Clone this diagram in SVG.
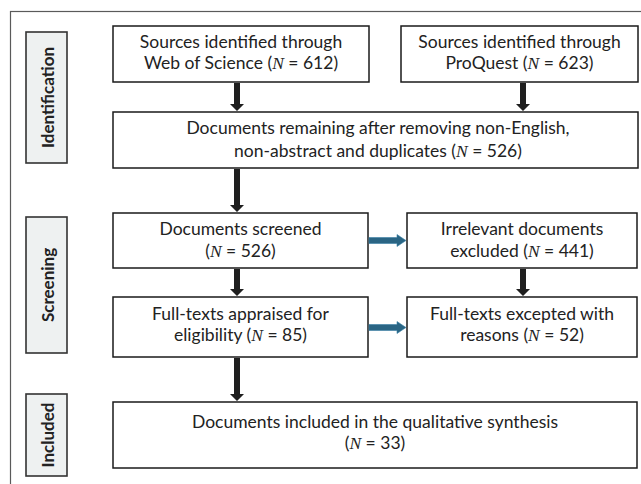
<svg xmlns="http://www.w3.org/2000/svg" width="641" height="484" viewBox="0 0 641 484">
<defs>
<style>
.frame{fill:none;stroke:#5a5a5a;stroke-width:1.2}
.lab rect{fill:#eef1f1;stroke:#333;stroke-width:1.6}
.lab text{font-family:Lato,"Open Sans",sans-serif;font-weight:bold;font-size:17px;fill:#222;text-anchor:middle;dominant-baseline:central}
.node rect{fill:#fff;stroke:#1a1a1a;stroke-width:1.5}
.node text{font-family:Lato,"Open Sans",sans-serif;font-size:17.5px;fill:#222;text-anchor:middle}
.n{font-family:"Liberation Serif",serif;font-style:italic}
.blk{fill:#1f1f1f}
.blu{fill:#2a6584;stroke:#3a82a6;stroke-width:0.6}
</style>
</defs>
<rect class="frame" x="10.5" y="11.5" width="640" height="480"/>
<g id="label-identification" class="lab"><rect x="26" y="32" width="41" height="131"/><text transform="translate(47,97.5) rotate(-90)">Identification</text></g>
<g id="label-screening" class="lab"><rect x="26" y="217" width="41" height="136"/><text transform="translate(47,285) rotate(-90)">Screening</text></g>
<g id="label-included" class="lab"><rect x="26" y="394" width="41" height="82"/><text transform="translate(47,435) rotate(-90)">Included</text></g>

<g id="wos" class="node"><rect x="113" y="26" width="256" height="56"/><text x="241" y="48">Sources identified through</text><text x="241" y="69">Web of Science (<tspan class="n">N</tspan> = 612)</text></g>
<g id="proquest" class="node"><rect x="401" y="26" width="237" height="56"/><text x="519.5" y="48">Sources identified through</text><text x="519.5" y="69">ProQuest (<tspan class="n">N</tspan> = 623)</text></g>
<g id="remaining" class="node"><rect x="113" y="112" width="525" height="56"/><text x="378" y="134">Documents remaining after removing non-English,</text><text x="378" y="157">non-abstract and duplicates (<tspan class="n">N</tspan> = 526)</text></g>
<g id="screened" class="node"><rect x="113" y="213" width="255" height="55"/><text x="240.5" y="235">Documents screened</text><text x="240.5" y="257">(<tspan class="n">N</tspan> = 526)</text></g>
<g id="irrelevant" class="node"><rect x="407" y="213" width="230" height="55"/><text x="522" y="235">Irrelevant documents</text><text x="522" y="257">excluded (<tspan class="n">N</tspan> = 441)</text></g>
<g id="appraised" class="node"><rect x="113" y="297" width="255" height="60"/><text x="240.5" y="320">Full-texts appraised for</text><text x="240.5" y="341">eligibility (<tspan class="n">N</tspan> = 85)</text></g>
<g id="excepted" class="node"><rect x="407" y="297" width="230" height="60"/><text x="522" y="320">Full-texts excepted with</text><text x="522" y="341">reasons (<tspan class="n">N</tspan> = 52)</text></g>
<g id="included" class="node"><rect x="113" y="402" width="524" height="66"/><text x="375" y="428">Documents included in the qualitative synthesis</text><text x="375" y="449">(<tspan class="n">N</tspan> = 33)</text></g>

<g id="connectors">
<path class="blk" d="M234 83H240V104H244L237 111L230 104H234Z"/>
<path class="blk" d="M520 83H526V104H530L523 111L516 104H520Z"/>
<path class="blk" d="M234 169H240V205H244L237 212L230 205H234Z"/>
<path class="blk" d="M234 269H240V289H244L237 296L230 289H234Z"/>
<path class="blk" d="M234 358H240V394H244L237 401L230 394H234Z"/>
<path class="blk" d="M520 269H526V289H530L523 296L516 289H520Z"/>
<path class="blu" d="M369 237.5H397V234.5L406 240.5L397 246.5V243.5H369Z"/>
<path class="blu" d="M369 324.5H397V321.5L406 327.5L397 333.5V330.5H369Z"/>
</g>
</svg>
